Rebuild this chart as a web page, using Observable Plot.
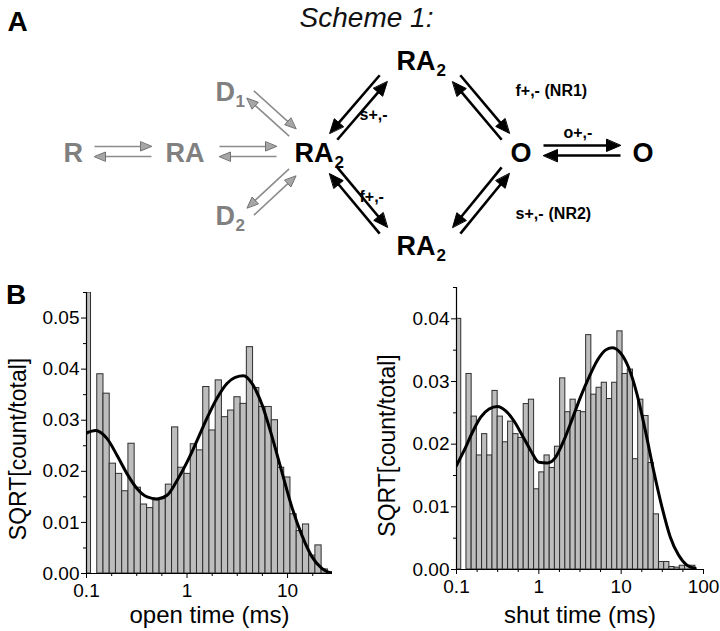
<!DOCTYPE html>
<html><head><meta charset="utf-8">
<script src="https://cdn.jsdelivr.net/npm/d3@7"></script>
<script src="https://cdn.jsdelivr.net/npm/@observablehq/plot@0.6"></script>
<style>
html,body{margin:0;padding:0;background:#fff;}
#fig{position:relative;width:720px;height:631px;overflow:hidden;font-family:"Liberation Sans",Arial,sans-serif;}
#scheme{position:absolute;left:0;top:0;}
#open{position:absolute;left:0;top:280px;}
#shut{position:absolute;left:360px;top:280px;}
.plabel{position:absolute;font-weight:bold;font-size:28px;line-height:1;color:#000;}
</style></head><body>
<div id="fig">
<div id="scheme"></div><div id="open"></div><div id="shut"></div>
<div class="plabel" style="left:6px;top:281px">B</div>
</div>
<script>
// ================= DATA =================
// Scheme 1 states
const stateText = ["R", "RA", "RA", "D", "D", "RA", "RA", "O", "O"];
const stateSub  = ["", "", "2", "1", "2", "2", "2", "", ""];
const stateGray = [true, true, false, true, true, false, false, false, false];
// rate-constant labels
const rateText   = ["s+,-", "f+,-", "(NR1)", "o+,-", "f+,-", "s+,-", "(NR2)"];
const rateItalic = [true, true, false, true, true, true, false];
// reactions (pairs of opposite arrows), gray = desensitized/binding branch
const reactionGray = [true, true, true, true, false, false, false, false, false];

// Open-time histogram (sqrt of count/total) in log bins
const openHeights = [0.055, 0, 0.039, 0.0352, 0.0215, 0.0195, 0.0161, 0.0254, 0.0168, 0.0135,
  0.0128, 0.0143, 0.0146, 0.0174, 0.0286, 0.0207, 0.0195, 0.0253, 0.0241, 0.0365,
  0.028, 0.0378, 0.0306, 0.0319, 0.0345, 0.0332, 0.0443, 0.0363, 0.0326, 0.0326,
  0.030, 0.0207, 0.0188, 0.0116, 0.0083, 0.0096, 0.0035, 0.0055, 0.0008, 0.0003];
const openFitTime = [0.1, 0.1229, 0.1604, 0.2016, 0.2535, 0.3187, 0.4006, 0.5035, 0.633, 0.7957,
  1, 1.257, 1.58, 1.986, 2.497, 3.02, 3.656, 4.424, 5.559, 6.98, 8.78, 11.04, 13.87, 17.46, 21.93, 27.5];
const openFitValue = [0.0275, 0.028, 0.0264, 0.0231, 0.0195, 0.0166, 0.015, 0.0146, 0.0153, 0.0182,
  0.0218, 0.026, 0.0304, 0.0343, 0.0372, 0.0384, 0.0387, 0.0372, 0.0331, 0.0269, 0.0199, 0.013,
  0.0075, 0.0033, 0.001, 0.0];

// Shut-time histogram
const shutHeights = [0.040, 0, 0.0312, 0.0244, 0.0182, 0.0216, 0.0182, 0.0285, 0.0244, 0.0203,
  0.0236, 0.0216, 0.021, 0.0264, 0.0271, 0.0128, 0.0155, 0.0182, 0.0162, 0.0196,
  0.0305, 0.0251, 0.0271, 0.0253, 0.0251, 0.0374, 0.0279, 0.029, 0.0298, 0.0272,
  0.0298, 0.038, 0.0312, 0.0319, 0.0176, 0.0271, 0.0245, 0.017, 0.0088, 0.0012,
  0.0012, 0.0004, 0.0003, 0.0006, 0.0006, 0.0006];
const shutFitTime = [0.1, 0.1238, 0.1562, 0.197, 0.2487, 0.3138, 0.3958, 0.4994, 0.63, 0.795,
  1.003, 1.265, 1.596, 2.014, 2.541, 3.206, 4.045, 5.103, 6.438, 7.75, 9.78, 12.34, 15.56,
  19.64, 24.77, 31.26, 39.45, 49.77, 62.8, 79.3];
const shutFitValue = [0.0166, 0.019, 0.0219, 0.0243, 0.0256, 0.026, 0.0253, 0.0237, 0.0214, 0.019,
  0.0171, 0.017, 0.0179, 0.0206, 0.024, 0.0275, 0.0306, 0.0333, 0.035, 0.0354, 0.0346, 0.0322,
  0.028, 0.0222, 0.0158, 0.01, 0.0052, 0.0023, 0.0007, 0.0002];

// axis ticks
const openXTicks = [0.1, 1, 10];
const openXMinor = [0.178, 0.316, 0.562, 1.78, 3.16, 5.62, 17.8];
const openYTicks = [0, 0.01, 0.02, 0.03, 0.04, 0.05];
const openYMinor = [0.005, 0.015, 0.025, 0.035, 0.045, 0.055];
const shutXTicks = [0.1, 1, 10, 100];
const shutXMinor = [0.178, 0.316, 0.562, 1.78, 3.16, 5.62, 17.8, 31.6, 56.2];
const shutYTicks = [0, 0.01, 0.02, 0.03, 0.04];
const shutYMinor = [0.005, 0.015, 0.025, 0.035, 0.045];

// ================= LAYOUT (scheme drawing, pixel space) =================
const stateX = [63, 165, 294, 215, 215, 396, 396, 510, 632];
const stateY = [161, 161, 161, 100, 224, 69, 254, 161, 161];
const subX   = [0, 0, 334, 235, 235, 436, 436, 0, 0];
const rateX = [359, 515, 544, 563, 359, 515, 548];
const rateY = [119, 95, 95, 137, 201, 218, 218];
const reactionFrom = [[94,151],[219,151],[250,94],[250,211],[333,136],[456,78],[333,170],[456,230],[543,150]];
const reactionTo   = [[151,151],[276,151],[292,132],[292,172],[383,78],[505,136],[383,230],[505,170],[620,150]];
const reactionSide = [1, 1, 1, -1, -1, 1, 1, -1, 1];

const FONT = "Liberation Sans, Arial, sans-serif";

// ---------- Scheme ----------
const states = stateText.map((t, i) => ({t, sub: stateSub[i], gray: stateGray[i], x: stateX[i], y: stateY[i], sx: subX[i]}));
const rates = rateText.map((t, i) => ({t, it: rateItalic[i], x: rateX[i], y: rateY[i]}));
const shafts = [], heads = [];
reactionFrom.forEach((a, i) => {
  const b = reactionTo[i], gray = reactionGray[i];
  const dx = b[0] - a[0], dy = b[1] - a[1], len = Math.hypot(dx, dy);
  const ux = dx / len, uy = dy / len, nx = uy, ny = -ux;
  const off = 5 * reactionSide[i];
  const L = gray ? 11 : 14, W = gray ? 4.5 : 6;
  const lines = [
    [[a[0] + nx*off, a[1] + ny*off], [b[0] + nx*off, b[1] + ny*off]],
    [[b[0] - nx*off, b[1] - ny*off], [a[0] - nx*off, a[1] - ny*off]]
  ];
  lines.forEach(([p, q], j) => {
    const vx = (q[0] - p[0]) / len, vy = (q[1] - p[1]) / len;
    const bx = q[0] - vx * L, by = q[1] - vy * L;
    shafts.push({x1: p[0], y1: p[1], x2: q[0] - vx * L * 0.7, y2: q[1] - vy * L * 0.7, gray});
    const id = i * 2 + j;
    heads.push({id, gray, x: q[0], y: q[1]});
    heads.push({id, gray, x: bx - vy * W, y: by + vx * W});
    heads.push({id, gray, x: bx + vy * W, y: by - vx * W});
  });
});

const scheme = Plot.plot({
  width: 720, height: 280, margin: 0,
  x: {domain: [0, 720], range: [0, 720], axis: null},
  y: {domain: [0, 280], range: [0, 280], axis: null},
  style: {fontFamily: FONT, background: "transparent", color: "#000"},
  marks: [
    Plot.text(["A"], {x: 7, y: 30, textAnchor: "start", lineAnchor: "bottom", fontSize: 28, fontWeight: "bold"}),
    Plot.text(["Scheme 1:"], {x: 366, y: 26, lineAnchor: "bottom", fontSize: 28, fontStyle: "italic", fill: "#111"}),
    Plot.link(shafts.filter(d => d.gray), {x1: "x1", y1: "y1", x2: "x2", y2: "y2", stroke: "#8c8c8c", strokeWidth: 1.6}),
    Plot.link(shafts.filter(d => !d.gray), {x1: "x1", y1: "y1", x2: "x2", y2: "y2", stroke: "#000", strokeWidth: 2.6}),
    Plot.line(heads.filter(d => d.gray), {x: "x", y: "y", z: "id", curve: "linear-closed", fill: "#a6a6a6", stroke: "#707070", strokeWidth: 1}),
    Plot.line(heads.filter(d => !d.gray), {x: "x", y: "y", z: "id", curve: "linear-closed", fill: "#000", stroke: "#000", strokeWidth: 1}),
    Plot.text(states, {x: "x", y: "y", text: "t", textAnchor: "start", lineAnchor: "bottom", fontSize: 27, fontWeight: "bold", fill: d => d.gray ? "#808080" : "#000"}),
    Plot.text(states.filter(d => d.sub), {x: "sx", y: d => d.y + 6, text: "sub", textAnchor: "start", lineAnchor: "bottom", fontSize: 17, fontWeight: "bold", fill: d => d.gray ? "#808080" : "#000"}),
    Plot.text(rates, {x: "x", y: "y", text: "t", textAnchor: "start", lineAnchor: "bottom", fontSize: 16, fontWeight: "bold", fontStyle: d => d.it ? "italic" : "normal"})
  ]
});
document.getElementById("scheme").append(scheme);

// ---------- Histograms ----------
function histogram(o) {
  const bins = o.heights.map((v, i) => ({x1: 10 ** (o.startLog + i * o.widthLog), x2: 10 ** (o.startLog + (i + 1) * o.widthLog), v}));
  const fit = o.fitTime.map((t, i) => ({t, v: o.fitValue[i]}));
  return Plot.plot({
    width: 360, height: 351,
    marginLeft: o.mL, marginRight: o.mR, marginTop: o.mT, marginBottom: o.mB,
    style: {fontFamily: FONT, background: "transparent", color: "#000"},
    x: {type: "log", domain: o.xDomain},
    y: {domain: [0, o.yMax]},
    marks: [
      Plot.rect(bins, {x1: "x1", x2: "x2", y1: 0, y2: "v", fill: "#bdbdbd", stroke: "#2e2e2e", strokeWidth: 1, clip: true}),
      Plot.line(fit, {x: "t", y: "v", curve: "monotone-x", stroke: "#000", strokeWidth: 3, clip: true}),
      Plot.ruleY([0], {stroke: "#000", strokeWidth: 1.2}),
      Plot.ruleX([o.xDomain[0]], {stroke: "#000", strokeWidth: 1.2}),
      Plot.axisX({ticks: o.xTicks, tickFormat: d => String(d), tickSize: 5, tickPadding: 5, fontSize: 19, label: null}),
      Plot.axisX({ticks: o.xMinor, tickFormat: () => "", tickSize: 3, label: null}),
      Plot.axisY({ticks: o.yTicks, tickFormat: d3.format(".2f"), tickSize: 5, tickPadding: 2, fontSize: 19, label: null}),
      Plot.axisY({ticks: o.yMinor, tickFormat: () => "", tickSize: 3, label: null}),
      Plot.text(["SQRT[count/total]"], {frameAnchor: "left", textAnchor: "middle", lineAnchor: "middle", rotate: -90, dx: o.yLabelDx, dy: o.yLabelDy, fontSize: 23}),
      Plot.text([o.xLabel], {frameAnchor: "bottom", textAnchor: "middle", dy: o.xLabelDy, fontSize: 24, lineAnchor: "middle"})
    ]
  });
}

document.getElementById("open").append(histogram({
  heights: openHeights, startLog: -1.017, widthLog: 0.062,
  fitTime: openFitTime, fitValue: openFitValue,
  xDomain: [0.1, 28], yMax: 0.055,
  xTicks: openXTicks, xMinor: openXMinor, yTicks: openYTicks, yMinor: openYMinor,
  mL: 86, mR: 28, mT: 12, mB: 58, yLabelDx: -68, yLabelDy: 16, xLabelDy: 42, xLabel: "open time (ms)"
}));
document.getElementById("shut").append(histogram({
  heights: shutHeights, startLog: -1.0055, widthLog: 0.0632,
  fitTime: shutFitTime, fitValue: shutFitValue,
  xDomain: [0.1, 100], yMax: 0.045,
  xTicks: shutXTicks, xMinor: shutXMinor, yTicks: shutYTicks, yMinor: shutYMinor,
  mL: 96, mR: 17, mT: 7, mB: 62, yLabelDx: -69, yLabelDy: 17, xLabelDy: 46, xLabel: "shut time (ms)"
}));
</script>
</body></html>
